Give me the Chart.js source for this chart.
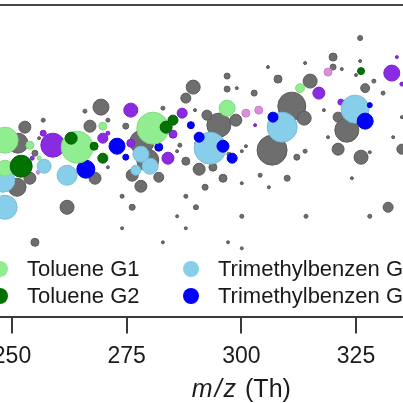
<!DOCTYPE html>
<html>
<head>
<meta charset="utf-8">
<script src="https://cdn.jsdelivr.net/npm/chart.js@4.4.1/dist/chart.umd.min.js"></script>
<style>
  html, body { margin: 0; padding: 0; background: #fff; overflow: hidden; }
  #wrap { position: relative; width: 403px; height: 403px; overflow: hidden; }
  /* the plot is wider than the window: only the middle part is shown.
     bubble charts pad the chart area by the largest radius (+border) = 17px */
  #chart { position: absolute; left: -57px; top: -12px; }
</style>
</head>
<body>
<div id="wrap"><canvas id="chart" width="517" height="415"></canvas></div>
<script>
// each point: [m/z, y value, signal]   (bubble area ~ signal)
const xTicks = [250, 275, 300, 325];

const other = [
  [269.4, 0.158, 64], [265.9, 0.154, 4], [282.9, 0.157, 4], [289.5, 0.178, 49],
  [287.9, 0.167, 25], [289.9, 0.155, 2.3], [256.8, 0.145, 4], [252.8, 0.138, 36],
  [270.9, 0.145, 4], [274.8, 0.139, 9], [267.0, 0.139, 36], [251.3, 0.122, 100],
  [255.9, 0.127, 2.3], [255.0, 0.112, 9], [268.1, 0.087, 36], [253.9, 0.087, 36],
  [251.1, 0.078, 81], [262.0, 0.058, 49], [276.2, 0.090, 36], [274.0, 0.069, 4],
  [276.2, 0.058, 9], [270.9, 0.098, 2.3], [278.3, 0.123, 144], [279.6, 0.105, 121],
  [282.0, 0.088, 25], [278.1, 0.079, 36], [286.6, 0.120, 4], [286.0, 0.114, 2.3],
  [287.9, 0.104, 16], [290.8, 0.096, 36], [293.8, 0.098, 16], [296.0, 0.087, 16],
  [292.1, 0.078, 9], [255.0, 0.023, 16], [286.0, 0.049, 2.3], [287.9, 0.069, 4],
  [290.1, 0.058, 6.3], [287.9, 0.037, 2.3], [282.9, 0.023, 2.3], [274.0, 0.037, 2.3],
  [295.1, 0.140, 144], [292.5, 0.150, 25], [298.8, 0.145, 36], [296.9, 0.189, 9],
  [296.9, 0.176, 9], [299.0, 0.177, 2.3], [302.8, 0.172, 9], [305.8, 0.198, 2.3],
  [311.0, 0.159, 196], [313.7, 0.147, 49], [308.0, 0.186, 16], [315.0, 0.184, 49],
  [320.0, 0.208, 16], [320.0, 0.198, 9], [325.9, 0.227, 6.3], [327.0, 0.177, 20],
  [306.7, 0.115, 225], [312.1, 0.108, 9], [310.0, 0.087, 9], [321.1, 0.148, 25],
  [323.0, 0.135, 144], [321.1, 0.116, 36], [326.1, 0.108, 49], [335.0, 0.116, 25],
  [332.0, 0.058, 25], [325.9, 0.204, 2.3], [321.9, 0.196, 2.3], [313.9, 0.202, 2.3],
  [328.9, 0.184, 4], [330.9, 0.172, 4], [325.0, 0.190, 2.3], [318.0, 0.155, 2.3],
  [318.9, 0.128, 2.3], [333.1, 0.128, 2.3], [313.9, 0.114, 4], [301.0, 0.119, 2.3],
  [300.1, 0.114, 2.3], [304.1, 0.090, 4], [300.1, 0.082, 2.3], [306.0, 0.078, 2.3],
  [324.1, 0.087, 2.3], [328.0, 0.113, 2.3], [300.1, 0.049, 4], [314.1, 0.049, 4],
  [328.0, 0.049, 4], [297.1, 0.023, 2.3], [300.1, 0.017, 2.3], [335.0, 0.148, 2.3],
  [297.3, 0.111, 4]
];

const pinkGroup = [
  [301.0, 0.152, 16], [303.8, 0.155, 16], [318.9, 0.193, 16], [255.7, 0.093, 4]
];

const purpleGroup = [
  [275.9, 0.155, 49], [287.1, 0.152, 25], [285.1, 0.131, 16], [275.9, 0.122, 16],
  [284.0, 0.107, 36], [258.9, 0.120, 144], [256.8, 0.132, 9], [269.8, 0.127, 25],
  [270.9, 0.132, 4], [254.4, 0.107, 4], [303.0, 0.140, 2.3], [316.9, 0.172, 36],
  [321.7, 0.163, 9], [332.8, 0.192, 64], [333.9, 0.208, 2.3], [335.0, 0.181, 4],
  [290.3, 0.122, 4]
];

const tmbG1 = [
  [308.9, 0.138, 225], [324.8, 0.156, 196], [293.2, 0.117, 256], [278.1, 0.111, 64],
  [280.1, 0.099, 64], [277.0, 0.095, 25], [257.0, 0.099, 49], [262.0, 0.090, 100],
  [248.0, 0.085, 144], [248.5, 0.058, 144]
];

const tmbG2 = [
  [289.0, 0.140, 12.3], [290.8, 0.128, 25], [282.0, 0.118, 16], [296.0, 0.119, 36],
  [298.0, 0.107, 25], [306.9, 0.148, 25], [327.0, 0.144, 64], [328.0, 0.160, 6.3],
  [272.9, 0.119, 64], [274.8, 0.108, 9], [266.1, 0.096, 81]
];

const tolG1 = [
  [269.8, 0.139, 16], [280.7, 0.137, 256], [296.9, 0.157, 64], [312.8, 0.177, 20],
  [248.5, 0.125, 169], [253.9, 0.120, 16], [264.2, 0.118, 256], [255.9, 0.107, 4],
  [248.5, 0.097, 64]
];

const tolG2 = [
  [283.6, 0.138, 36], [285.1, 0.145, 25], [262.9, 0.127, 36], [267.9, 0.119, 16],
  [269.8, 0.107, 25], [252.0, 0.099, 121], [326.1, 0.194, 12.3]
];

const series = [
  { label: 'Other',              pts: other,       fill: '#6e6e6e', edge: '#5a5a5a', order: 7 },
  { label: 'Pink group',         pts: pinkGroup,   fill: '#d990d9', edge: '#c77fc7', order: 6 },
  { label: 'Purple group',       pts: purpleGroup, fill: '#8a2be2', edge: '#7a22cc', order: 5 },
  { label: 'Trimethylbenzen G1', pts: tmbG1,       fill: '#87ceeb', edge: '#78bcd9', order: 4 },
  { label: 'Trimethylbenzen G2', pts: tmbG2,       fill: '#0000ff', edge: '#0000d8', order: 3 },
  { label: 'Toluene G1',         pts: tolG1,       fill: '#90ee90', edge: '#80dc80', order: 2 },
  { label: 'Toluene G2',         pts: tolG2,       fill: '#037203', edge: '#026002', order: 1 }
];

// legend columns as in the figure (only these are in view)
const legendCols = [['Toluene G1', 'Toluene G2'], ['Trimethylbenzen G1', 'Trimethylbenzen G2']];

const FONT = '"Liberation Sans", Arial, sans-serif';

const extras = {
  id: 'extras',
  afterDraw(chart) {
    const { ctx, chartArea } = chart;
    ctx.save();
    // top frame line
    ctx.strokeStyle = '#474747';
    ctx.lineWidth = 2;
    ctx.beginPath();
    ctx.moveTo(chartArea.left, chartArea.top);
    ctx.lineTo(chartArea.right, chartArea.top);
    ctx.stroke();

    // legend inside the plot (canvas px; canvas sits 57px left, 12px up)
    const colX = [57, 248];
    const rowY = [281, 308];
    ctx.font = '22px ' + FONT;
    ctx.textBaseline = 'alphabetic';
    legendCols.forEach((col, ci) => {
      col.forEach((lab, ri) => {
        const s = series.find(d => d.label === lab);
        ctx.beginPath();
        ctx.arc(colX[ci], rowY[ri], 8, 0, Math.PI * 2);
        ctx.fillStyle = s.fill;
        ctx.fill();
        ctx.fillStyle = '#1a1a1a';
        ctx.fillText(lab, colX[ci] + 27, rowY[ri] + 7);
      });
    });

    // axis title, m/z in italics, centred under the 300 tick
    const cx = chart.scales.x.getPixelForValue(300);
    const yTitle = 409;
    const a = 'm/z';
    const b = ' (Th)';
    ctx.font = 'italic 25px ' + FONT;
    ctx.letterSpacing = '2px';
    const wa = ctx.measureText(a).width;
    ctx.font = '25px ' + FONT;
    ctx.letterSpacing = '0px';
    const wb = ctx.measureText(b).width;
    const x0 = cx - (wa + wb) / 2;
    ctx.textAlign = 'left';
    ctx.fillStyle = '#1a1a1a';
    ctx.font = 'italic 25px ' + FONT;
    ctx.letterSpacing = '2px';
    ctx.fillText(a, x0, yTitle);
    ctx.font = '25px ' + FONT;
    ctx.letterSpacing = '0px';
    ctx.fillText(b, x0 + wa, yTitle);
    ctx.restore();
  }
};

new Chart(document.getElementById('chart').getContext('2d'), {
  type: 'bubble',
  data: {
    datasets: series.map(s => ({
      label: s.label,
      data: s.pts.map(p => ({ x: p[0], y: p[1], r: Math.sqrt(p[2]) })),
      backgroundColor: s.fill,
      borderColor: s.edge,
      borderWidth: 1,
      order: s.order
    }))
  },
  options: {
    responsive: false,
    animation: false,
    layout: { padding: { top: 0, bottom: 24, left: 0, right: 0 } },
    scales: {
      x: {
        type: 'linear',
        min: 238.66,
        max: 343.97,
        afterBuildTicks: s => { s.ticks = xTicks.map(v => ({ value: v })); },
        grid: { drawOnChartArea: false, drawTicks: true, tickLength: 16, color: '#3a3a3a', lineWidth: 2 },
        border: { display: true, color: '#3a3a3a', width: 2 },
        ticks: { padding: 9, color: '#1a1a1a', font: { family: FONT, size: 23 }, callback: v => String(v) }
      },
      y: { display: false, min: -0.052, max: 0.26 }
    },
    plugins: { legend: { display: false }, tooltip: { enabled: false } }
  },
  plugins: [extras]
});
</script>
</body>
</html>
